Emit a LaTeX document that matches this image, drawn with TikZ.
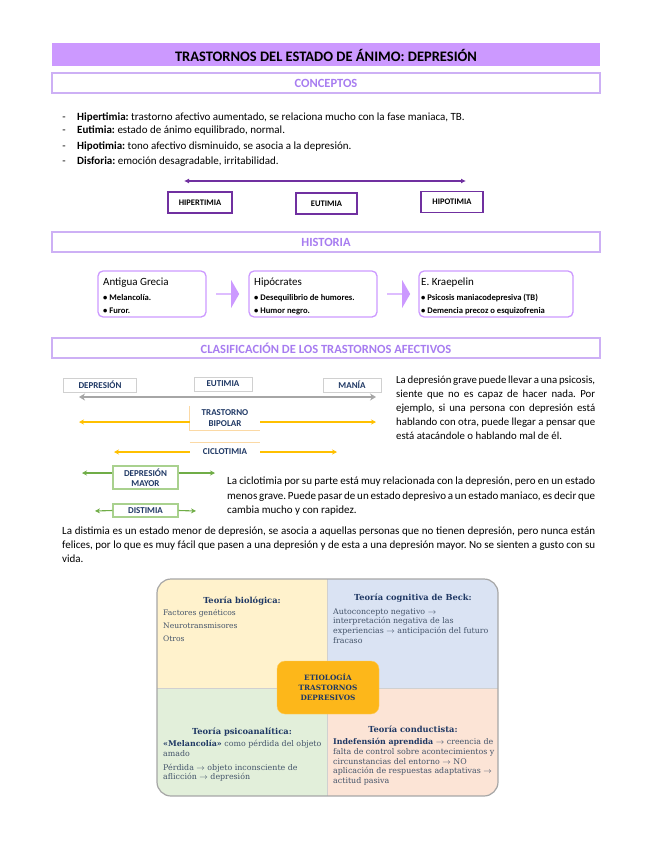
\documentclass[tikz,border=0pt]{standalone}
\usepackage{fontspec}
\setmainfont{Carlito}
\newfontfamily\serifcuadro{DejaVu Serif}
\usepackage{xcolor}
\usepackage{tikz}
\usetikzlibrary{arrows.meta,positioning,shapes.arrows,calc}
\definecolor{lila}{HTML}{CC99FF}
\definecolor{lilaborde}{HTML}{CDB0F5}
\definecolor{lilatexto}{HTML}{A77CF0}
\definecolor{morado}{HTML}{7030A0}
\definecolor{marino}{HTML}{1F3864}
\definecolor{grisborde}{HTML}{D0D0D0}
\definecolor{grisflecha}{HTML}{A6A6A6}
\definecolor{naranja}{HTML}{FFC000}
\definecolor{naranjaclaro}{HTML}{FBD9A5}
\definecolor{verde}{HTML}{70AD47}
\definecolor{verdeclaro}{HTML}{A9D18E}
\definecolor{crema}{HTML}{FFF2CC}
\definecolor{celeste}{HTML}{DAE3F3}
\definecolor{menta}{HTML}{E2EFDA}
\definecolor{salmon}{HTML}{FCE4D6}
\definecolor{dorado}{HTML}{FDB71A}
\definecolor{pizarra}{HTML}{44546A}
\newcommand{\fs}[2]{\fontsize{#1}{#2}\selectfont}
\newcommand{\flecha}{$\rightarrow$}
\frenchspacing
\hyphenpenalty=10000

\begin{document}
\begin{tikzpicture}[x=1pt,y=-1pt,
  barra/.style={fill=lila,minimum width=548pt,minimum height=23pt,inner sep=0pt,
               font=\bfseries\fs{14.5}{16}},
  seccion/.style={draw=lilaborde,line width=1.2pt,minimum width=548pt,minimum height=20pt,
               inner sep=0pt,text=lilatexto,font=\bfseries\fs{12.5}{14}},
  texto/.style={anchor=west,inner sep=0pt,font=\fs{11}{13}},
  parrafo/.style={anchor=north west,inner sep=0pt,align=justify},
  cajamorada/.style={draw=morado,line width=1.3pt,minimum height=21pt,inner sep=0pt,
               font=\bfseries\fs{8.5}{10}},
  hito/.style={draw=lila,line width=1.3pt,rounded corners=5pt,minimum height=46pt,inner sep=0pt},
  hitotit/.style={anchor=west,inner sep=0pt,font=\fs{11}{13}},
  hitoitem/.style={anchor=west,inner sep=0pt,font=\bfseries\fs{8.6}{10}},
  flechita/.style={single arrow,fill=lila,minimum width=28pt,minimum height=23pt,inner sep=0pt,
               single arrow head extend=4pt,single arrow tip angle=120},
  cajagris/.style={draw=grisborde,line width=1pt,minimum height=14pt,inner sep=0pt,
               text=marino,font=\bfseries\fs{9}{10}},
  etiq/.style={inner sep=0pt,text=marino,align=center,font=\bfseries\fs{9}{10.5}},
  cajaverde/.style={draw=verdeclaro,line width=1.2pt,minimum width=65pt,inner sep=0pt,
               text=marino,align=center,font=\bfseries\fs{9}{10.5}},
  arrmorada/.style={{Latex[length=5pt,width=5pt]}-{Latex[length=5pt,width=5pt]},line width=1.4pt,draw=morado},
  arrgris/.style={{Stealth[length=6pt,width=7pt]}-{Stealth[length=6pt,width=7pt]},line width=1.8pt,draw=grisflecha},
  arrnaranja/.style={-{Stealth[length=5pt,width=5pt]},line width=1.1pt,draw=naranja},
  arrverde/.style={-{Stealth[length=5pt,width=5pt]},line width=1.1pt,draw=verde},
  titcuadro/.style={inner sep=0pt,text=marino,font=\serifcuadro\bfseries\fs{8.3}{10}},
  txtcuadro/.style={anchor=north west,inner sep=0pt,align=left,text=pizarra,font=\serifcuadro\fs{7.9}{9.8}},
  centro/.style={fill=dorado,draw=dorado!70!white,rounded corners=8pt,minimum width=102pt,
               minimum height=53pt,inner sep=0pt,align=center,text=marino,
               font=\serifcuadro\bfseries\fs{7.3}{10}}
]
\useasboundingbox (0,0) rectangle (655,848);

% cabecera
\node[barra] (titulo) at (326,55) {TRASTORNOS DEL ESTADO DE ÁNIMO: DEPRESIÓN};
\node[seccion] (conceptos) at (326,83) {CONCEPTOS};

% conceptos
\node[texto] (hipert) at (77,117) {\textbf{Hipertimia:} trastorno afectivo aumentado, se relaciona mucho con la fase maniaca, TB.};
\node[texto] (eut) at (77,131) {\textbf{Eutimia:} estado de ánimo equilibrado, normal.};
\node[texto] (hipot) at (77,147) {\textbf{Hipotimia:} tono afectivo disminuido, se asocia a la depresión.};
\node[texto] (disf) at (77,162) {\textbf{Disforia:} emoción desagradable, irritabilidad.};
\node[texto,base left=11pt of hipert] (g1) {-};
\node[texto,base left=11pt of eut] (g2) {-};
\node[texto,base left=11pt of hipot] (g3) {-};
\node[texto,base left=11pt of disf] (g4) {-};

\coordinate (ai) at (184,181);
\coordinate (ad) at (466,181);
\draw[arrmorada] (ai) -- (ad);
\node[cajamorada,minimum width=64pt] (hiper) at (200,202.5) {HIPERTIMIA};
\node[cajamorada,minimum width=61pt] (eutimia) at (326.5,203.5) {EUTIMIA};
\node[cajamorada,minimum width=62pt] (hipo) at (452,202) {HIPOTIMIA};

% historia
\node[seccion] (historia) at (326,242) {HISTORIA};
\node[hito,minimum width=108pt] (grecia) at (152,294) {};
\node[hito,minimum width=128pt] (hipocrates) at (313,294) {};
\node[hito,minimum width=154pt] (kraepelin) at (496,294) {};
\node[flechita] (f1) at (227.5,294) {};
\node[flechita] (f2) at (398.5,294) {};
\node[hitotit] (grecia-t) at (103,283) {Antigua Grecia};
\node[hitoitem] (grecia-1) at (103,298) {• Melancolía.};
\node[hitoitem] (grecia-2) at (103,311) {• Furor.};
\node[hitotit] (hipocrates-t) at (254,283) {Hipócrates};
\node[hitoitem] (hipocrates-1) at (254,298) {• Desequilibrio de humores.};
\node[hitoitem] (hipocrates-2) at (254,311) {• Humor negro.};
\node[hitotit] (kraepelin-t) at (421,283) {E. Kraepelin};
\node[hitoitem] (kraepelin-1) at (421,298) {• Psicosis maniacodepresiva (TB)};
\node[hitoitem] (kraepelin-2) at (421,311) {• Demencia precoz o esquizofrenia};

% clasificacion
\node[seccion] (clasif) at (326,348) {CLASIFICACIÓN DE LOS TRASTORNOS AFECTIVOS};
\node[cajagris,minimum width=73pt] (depresion) at (100,385) {DEPRESIÓN};
\node[cajagris,minimum width=58pt] (eutimia2) at (223,384) {EUTIMIA};
\node[cajagris,minimum width=58pt] (mania) at (352,385) {MANÍA};
\coordinate (gi) at (79,397);
\coordinate (gd) at (376,397);
\draw[arrgris] (gi) -- (gd);

\node[etiq,minimum width=70pt,minimum height=24pt] (bipolar) at (225,418) {TRASTORNO\\BIPOLAR};
\draw[naranjaclaro,line width=1.2pt] (bipolar.north west) -- (bipolar.south west) -- (bipolar.south east);
\coordinate (bi) at (79,422);
\coordinate (bd) at (376,422);
\draw[arrnaranja] ([yshift=-4pt]bipolar.west) -- (bi);
\draw[arrnaranja] ([yshift=-4pt]bipolar.east) -- (bd);

\node[etiq,minimum width=70pt,minimum height=18pt] (ciclo) at (225,452) {CICLOTIMIA};
\draw[naranjaclaro,line width=1.2pt] (ciclo.north west) -- (ciclo.north east);
\coordinate (ci) at (114,452);
\coordinate (cd) at (337,452);
\draw[arrnaranja] (ciclo.west) -- (ci);
\draw[arrnaranja] (ciclo.east) -- (cd);

\node[cajaverde,minimum height=23pt] (mayor) at (145.5,477.5) {DEPRESIÓN\\MAYOR};
\coordinate (mi) at (82,473);
\coordinate (md) at (215,473);
\draw[arrverde] ([yshift=4.5pt]mayor.west) -- (mi);
\draw[arrverde] ([yshift=4.5pt]mayor.east) -- (md);
\node[cajaverde,minimum height=13pt] (distimia) at (145.5,510.5) {DISTIMIA};
\coordinate (di) at (95,511);
\coordinate (dd) at (196,511);
\draw[arrverde] (distimia.west) -- (di);
\draw[arrverde] (distimia.east) -- (dd);

\node[parrafo,text width=199pt,font=\fs{10.8}{14}] (grave) at (396,376) {La depresión grave puede llevar a una psicosis,\linebreak siente que no es capaz de hacer nada. Por\linebreak ejemplo, si una persona con depresión está\linebreak hablando con otra, puede llegar a pensar que\linebreak está atacándole o hablando mal de él.};
\node[parrafo,text width=368pt,font=\fs{11}{14.5}] (ciclotxt) at (227,477) {La ciclotimia por su parte está muy relacionada con la depresión, pero en un estado\linebreak menos grave. Puede pasar de un estado depresivo a un estado maniaco, es decir que\linebreak cambia mucho y con rapidez.};
\node[parrafo,text width=533pt,font=\fs{11}{14}] (distxt) at (62,527) {La distimia es un estado menor de depresión, se asocia a aquellas personas que no tienen depresión, pero nunca están felices, por lo que es muy fácil que pasen a una depresión y de esta a una depresión mayor. No se sienten a gusto con su vida.};

% etiologia
\begin{scope}
  \clip[rounded corners=14pt] (157,579) rectangle (498,796);
  \fill[crema] (157,579) rectangle (327,688);
  \fill[celeste] (327,579) rectangle (498,688);
  \fill[menta] (157,688) rectangle (327,796);
  \fill[salmon] (327,688) rectangle (498,796);
\end{scope}
\draw[grisborde,line width=0.8pt] (327,579) -- (327,796);
\draw[grisborde,line width=0.8pt] (157,688) -- (498,688);
\draw[grisflecha,line width=1.2pt,rounded corners=14pt] (157,579) rectangle (498,796);

\node[titcuadro] (tbio) at (242,601) {Teoría biológica:};
\node[txtcuadro,font=\serifcuadro\fs{7.6}{13}] (lbio) at (163,609) {Factores genéticos\\Neurotransmisores\\Otros};
\node[titcuadro] (tbeck) at (413,598) {Teoría cognitiva de Beck:};
\node[txtcuadro] (lbeck) at (333,608) {Autoconcepto negativo \flecha\\interpretación negativa de las\\experiencias \flecha{} anticipación del futuro\\fracaso};
\node[titcuadro] (tpsico) at (242,732) {Teoría psicoanalítica:};
\node[txtcuadro] (lpsico) at (163,740) {\textcolor{marino}{\bfseries «Melancolía»} como pérdida del objeto\\amado\\[4pt]Pérdida \flecha{} objeto inconsciente de\\aflicción \flecha{} depresión};
\node[titcuadro] (tcond) at (413,729) {Teoría conductista:};
\node[txtcuadro] (lcond) at (333,738) {\textcolor{marino}{\bfseries Indefensión aprendida} \flecha{} creencia de\\falta de control sobre acontecimientos y\\circunstancias del entorno \flecha{} NO\\aplicación de respuestas adaptativas \flecha\\actitud pasiva};
\node[centro] (etiologia) at (328,687.5) {ETIOLOGÍA\\TRASTORNOS\\DEPRESIVOS};
\end{tikzpicture}
\end{document}
